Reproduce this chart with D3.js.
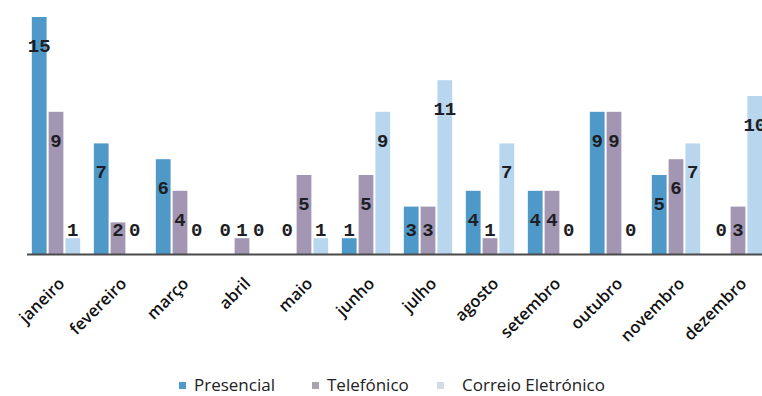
<!DOCTYPE html>
<html>
<head>
<meta charset="utf-8">
<script src="https://cdn.jsdelivr.net/npm/d3@7/dist/d3.min.js"></script>
<style>
  html, body { margin: 0; padding: 0; background: #fff; }
  svg { display: block; }
</style>
</head>
<body>
<svg id="chart" width="762" height="396"></svg>
<script>
// Monthly contacts by channel
const months = ["janeiro", "fevereiro", "março", "abril", "maio", "junho",
                "julho", "agosto", "setembro", "outubro", "novembro", "dezembro"];
const seriesNames = ["Presencial", "Telefónico", "Correio Eletrónico"];
const presencial = [15, 7, 6, 0, 0, 1, 3, 4, 4, 9, 5, 0];
const telefonico = [9, 2, 4, 1, 5, 5, 3, 1, 4, 9, 6, 3];
const correio    = [1, 0, 0, 0, 1, 9, 11, 7, 0, 0, 7, 10];
const colors = ["#4f99c9", "#a396b2", "#b9d6ef"];

const seriesValues = [presencial, telefonico, correio];
const rows = months.map((m, i) => ({
  month: m,
  values: seriesNames.map((s, k) => ({ key: s, idx: k, value: seriesValues[k][i] }))
}));

const svg = d3.select("#chart");
const x0 = 25, baseY = 254;

const x = d3.scaleBand().domain(months).range([x0, x0 + 62 * months.length])
  .paddingInner(0.22).paddingOuter(0.11);
const xs = d3.scaleBand().domain([0, 1, 2]).range([0, x.bandwidth()]).paddingInner(0.12);
const y = d3.scaleLinear().domain([0, 15]).range([baseY, 17]);

// bars
const groups = svg.append("g").selectAll("g").data(rows).join("g")
  .attr("transform", d => `translate(${x(d.month)},0)`);

groups.selectAll("rect").data(d => d.values).join("rect")
  .attr("x", d => xs(d.idx))
  .attr("width", xs.bandwidth())
  .attr("y", d => y(d.value))
  .attr("height", d => baseY - y(d.value))
  .attr("fill", d => colors[d.idx]);

// baseline
svg.append("line")
  .attr("x1", 27).attr("x2", 762)
  .attr("y1", baseY + 0.5).attr("y2", baseY + 0.5)
  .attr("stroke", "#4a4a4a").attr("stroke-width", 2.2);

// value labels
groups.selectAll("text.val").data(d => d.values).join("text")
  .attr("class", "val")
  .attr("x", d => xs(d.idx) + xs.bandwidth() / 2)
  .attr("y", d => Math.min(y(d.value) + 30, baseY - 23))
  .attr("text-anchor", "middle")
  .attr("dominant-baseline", "central")
  .attr("font-family", "'Liberation Mono', 'DejaVu Sans Mono', monospace")
  .attr("font-weight", "bold")
  .attr("font-size", 19)
  .attr("fill", "#1e1e24")
  .text(d => d.value);

// month labels
svg.append("g").selectAll("text").data(months).join("text")
  .attr("transform", d => `translate(${x(d) + x.bandwidth() / 2 + 5},${baseY + 26}) rotate(-45)`)
  .attr("text-anchor", "end")
  .attr("dominant-baseline", "central")
  .attr("font-family", "'Open Sans', sans-serif")
  .attr("font-weight", 600)
  .attr("font-size", 16.5)
  .attr("fill", "#111")
  .text(d => d);

// legend
const legendX = [179, 312, 437];
const legend = svg.append("g").selectAll("g").data(seriesNames).join("g")
  .attr("transform", (d, i) => `translate(${legendX[i]},385)`);
legend.append("rect")
  .attr("x", 0).attr("y", -3).attr("width", 7).attr("height", 7)
  .attr("fill", (d, i) => i === 1 ? "#a8a3ad" : i === 2 ? "#d4dbe2" : colors[0]);
legend.append("text")
  .attr("x", (d, i) => i === 2 ? 25 : 15)
  .attr("y", 6)
  .attr("font-family", "'Open Sans', sans-serif")
  .attr("font-size", 17)
  .attr("fill", "#222")
  .text(d => d);
</script>
</body>
</html>
